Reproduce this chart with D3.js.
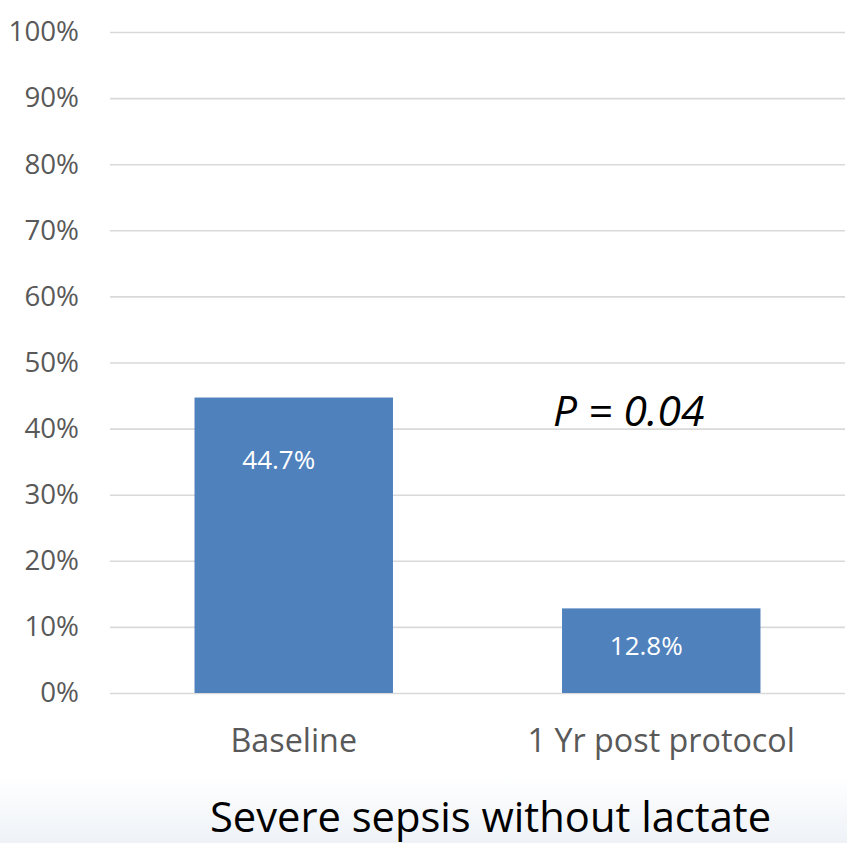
<!DOCTYPE html>
<html>
<head>
<meta charset="utf-8">
<script src="https://cdn.jsdelivr.net/npm/d3@7"></script>
<style>
  html, body { margin: 0; padding: 0; background: #fff; }
  svg { display: block; }
</style>
</head>
<body>
<svg id="chart" width="847" height="843"></svg>
<script>
// Share of severe sepsis cases without a lactate measurement
const categories = ["Baseline", "1 Yr post protocol"];
const values = [44.7, 12.8];
const valueLabels = ["44.7%", "12.8%"];
const yTicks = [0, 10, 20, 30, 40, 50, 60, 70, 80, 90, 100];
const chartTitle = "Severe sepsis without lactate";
const pValueText = "P = 0.04";

const W = 847, H = 843;
const svg = d3.select("#chart");

// faint blue wash along the bottom of the slide
const defs = svg.append("defs");
const grad = defs.append("linearGradient")
  .attr("id", "floor").attr("x1", 0).attr("y1", 0).attr("x2", 0).attr("y2", 1);
grad.append("stop").attr("offset", "0%").attr("stop-color", "#ffffff");
grad.append("stop").attr("offset", "100%").attr("stop-color", "#eef2f7");
svg.append("rect").attr("x", 0).attr("y", 776).attr("width", W).attr("height", H - 776)
  .attr("fill", "url(#floor)");

const plot = { left: 110, right: 845, top: 32, bottom: 693 };

const x = d3.scaleBand()
  .domain(categories)
  .range([plot.left, plot.right])
  .paddingInner(0.46)
  .paddingOuter(0.23);

const y = d3.scaleLinear()
  .domain([0, 100])
  .range([plot.bottom, plot.top]);

const font = "'Open Sans', 'Noto Sans', sans-serif";

// horizontal gridlines with percentage labels
const yAxis = d3.axisLeft(y)
  .tickValues(yTicks)
  .tickFormat(d => d + "%")
  .tickSize(-(plot.right - plot.left))
  .tickPadding(31);

const gy = svg.append("g")
  .attr("transform", `translate(${plot.left},0)`)
  .call(yAxis);
gy.select(".domain").remove();
gy.selectAll(".tick line").attr("stroke", "#d9d9d9").attr("stroke-width", 1.6);
gy.selectAll(".tick text")
  .attr("fill", "#595959")
  .style("font-family", font)
  .style("font-size", "27.7px");

// bars
svg.append("g").selectAll("rect")
  .data(values)
  .join("rect")
  .attr("x", (d, i) => x(categories[i]))
  .attr("width", x.bandwidth())
  .attr("y", d => y(d))
  .attr("height", d => y(0) - y(d))
  .attr("fill", "#4f81bd");

// value labels inside the bars, nudged slightly left of centre
svg.append("g").selectAll("text")
  .data(values)
  .join("text")
  .attr("x", (d, i) => x(categories[i]) + x.bandwidth() / 2 - 15)
  .attr("y", d => y(d) + Math.min(71, (y(0) - y(d)) / 2 + 4))
  .attr("text-anchor", "middle")
  .attr("fill", "#ffffff")
  .style("font-family", font)
  .style("font-size", "26px")
  .text((d, i) => valueLabels[i]);

// category axis labels
const xAxis = d3.axisBottom(x).tickSize(0).tickPadding(0);
const gx = svg.append("g")
  .attr("transform", `translate(0,${plot.bottom})`)
  .call(xAxis);
gx.select(".domain").remove();
gx.selectAll(".tick text")
  .attr("y", 59)
  .attr("dy", 0)
  .attr("fill", "#595959")
  .style("font-family", font)
  .style("font-size", "32.3px");

// significance note
svg.append("text")
  .attr("x", x(categories[1]) - 9)
  .attr("y", y(40.4))
  .attr("fill", "#000")
  .style("font-family", font)
  .style("font-style", "italic")
  .style("font-size", "42.5px")
  .text(pValueText);

// chart title below the axis
svg.append("text")
  .attr("x", 490.5)
  .attr("y", 832)
  .attr("text-anchor", "middle")
  .attr("fill", "#000")
  .style("font-family", font)
  .style("font-size", "41.7px")
  .text(chartTitle);
</script>
</body>
</html>
